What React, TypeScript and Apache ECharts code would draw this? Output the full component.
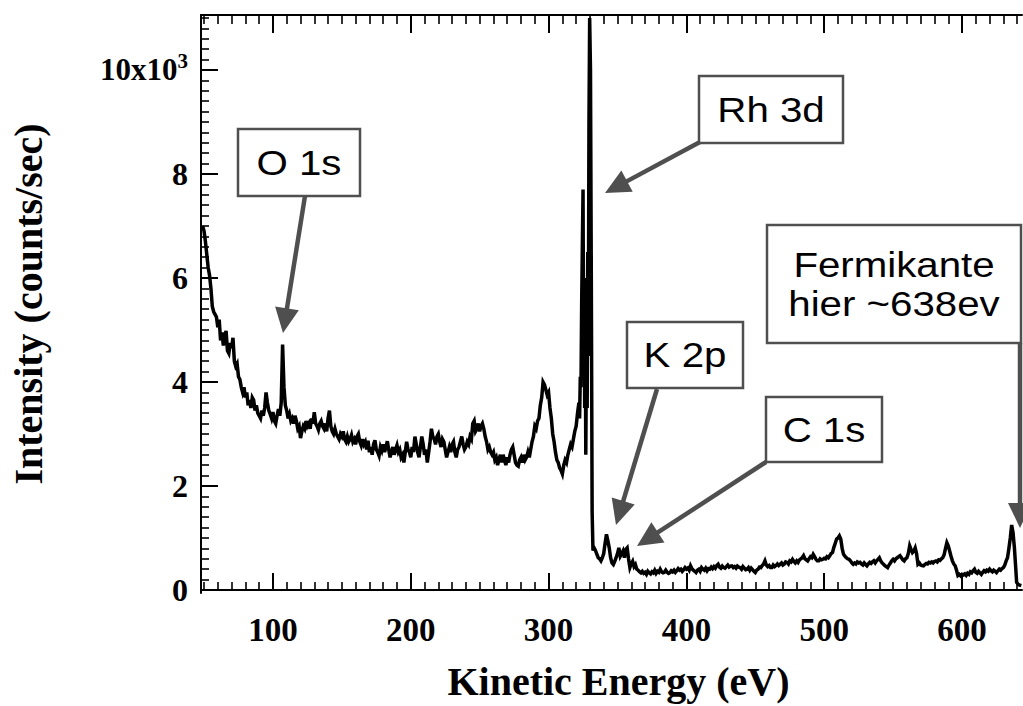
import React, { useEffect, useRef } from "react";
import * as echarts from "echarts";

// Spectrum readings [kinetic energy (eV), intensity (counts/sec)], by region
const backgroundRise: number[][] = [
  [49, 7000], [50, 6900], [51, 6700], [52, 6450], [53, 6200], [54, 6050], [55, 5800], [56, 5450], [57, 5350], [58, 5300],
  [59, 5250], [60, 5050], [61, 5200], [62, 4800], [63, 4950], [64, 4700], [65, 4900], [66, 4980], [67, 4600], [68, 4550],
  [69, 4750], [70, 4650], [71, 4850], [72, 4400], [73, 4300], [74, 4350], [75, 4100], [76, 4050], [77, 3900], [78, 3800],
  [79, 3900], [80, 3700], [81, 3800], [82, 3550], [83, 3650], [84, 3500], [85, 3700], [86, 3650], [87, 3450], [88, 3550],
  [89, 3400], [90, 3350], [91, 3300], [92, 3450], [93, 3350], [94, 3500], [95, 3800], [96, 3600], [97, 3450], [98, 3380],
  [99, 3300], [100, 3420], [101, 3250], [102, 3200], [103, 3350], [104, 3480], [105, 3350], [106, 3600], [107, 4720], [108, 3900],
  [109, 3550],
];

const plateau: number[][] = [
  [110, 3450], [111, 3300], [112, 3380], [113, 3250], [114, 3300], [115, 3200], [116, 3350], [117, 3250], [118, 3100], [119, 3150],
  [120, 2920], [121, 3050], [122, 3150], [123, 3100], [124, 3250], [125, 3150], [126, 3200], [127, 3100], [128, 3300], [129, 3200],
  [130, 3420], [131, 3200], [132, 3150], [133, 3080], [134, 3200], [135, 3250], [136, 3150], [137, 3100], [138, 3200], [139, 3050],
  [140, 3300], [141, 3450], [142, 3150], [143, 3050], [144, 3000], [145, 3100], [146, 3000], [147, 2950], [148, 2900], [149, 3000],
  [150, 2950], [151, 3050], [152, 2900], [153, 2850], [154, 2950], [155, 2850], [156, 2900], [157, 2980], [158, 2850], [159, 2900],
  [160, 2800], [161, 2950], [162, 3000], [163, 2850], [164, 2780], [165, 2900], [166, 2800], [167, 2850], [168, 2700], [169, 2870],
  [170, 2650], [171, 2750], [172, 2600], [173, 2800], [174, 2880], [175, 2700], [176, 2650], [177, 2580], [178, 2750], [179, 2680],
  [180, 2800], [181, 2650], [182, 2750], [183, 2860], [184, 2700], [185, 2550], [186, 2650], [187, 2750], [188, 2600], [189, 2700],
  [190, 2780], [191, 2650], [192, 2700], [193, 2550], [194, 2600], [195, 2450], [196, 2650], [197, 2850], [198, 2700], [199, 2650],
  [200, 2550], [201, 2750], [202, 2650], [203, 2950], [204, 2800], [205, 2650], [206, 2550], [207, 2750], [208, 2950], [209, 2800],
  [210, 2600], [211, 2700], [212, 2450], [213, 2650], [214, 2850], [215, 3100], [216, 2950], [217, 2900], [218, 2800], [219, 2950],
  [220, 3000], [221, 2850], [222, 2750], [223, 2900], [224, 2850], [225, 2700], [226, 2550], [227, 2650], [228, 2750], [229, 2650],
  [230, 2800], [231, 2850], [232, 2650], [233, 2550], [234, 2700], [235, 2750], [236, 2850], [237, 2950], [238, 2800], [239, 2700],
  [240, 2750], [241, 2850], [242, 2800], [243, 2950], [244, 2900], [245, 3200], [246, 3250], [247, 3050], [248, 3100], [249, 3200],
  [250, 3050], [251, 3150], [252, 3200], [253, 3100], [254, 2950], [255, 2850], [256, 2700], [257, 2750], [258, 2650], [259, 2600],
  [260, 2650], [261, 2500], [262, 2550], [263, 2400], [264, 2500], [265, 2600], [266, 2450], [267, 2600], [268, 2500], [269, 2400],
  [270, 2550], [271, 2450], [272, 2600], [273, 2700], [274, 2750], [275, 2600], [276, 2450], [277, 2400], [278, 2380], [279, 2500],
  [280, 2550], [281, 2450], [282, 2600], [283, 2500], [284, 2550], [285, 2650], [286, 2550], [287, 2700], [288, 2850], [289, 2950],
];

const rhodiumRegion: number[][] = [
  [290, 3150], [291, 3100], [292, 3250], [293, 3300], [294, 3550], [295, 3700], [296, 4000], [297, 3950], [298, 3850], [299, 3750],
  [300, 3800], [301, 3500], [302, 3300], [303, 3000], [304, 2850], [305, 2650], [306, 2500], [307, 2450], [308, 2350], [309, 2300],
  [310, 2230], [311, 2400], [312, 2500], [313, 2450], [314, 2600], [315, 2700], [316, 2800], [317, 2750], [318, 2900], [319, 3050],
  [320, 3150], [321, 3400], [322, 3600], [322.5, 3300], [323, 4100], [323.5, 3900], [324, 5500], [325, 7700], [325.4, 4500], [325.8, 6000],
  [326.2, 3500], [326.6, 5200], [327, 2600], [327.5, 4800], [328, 3500], [328.4, 6500], [328.8, 4500], [329.3, 9000], [329.8, 11000], [330.4, 10000],
  [331, 6000], [331.6, 1500], [332.2, 760], [333, 810], [334, 760], [335, 690], [336, 620], [337, 600],
  [338, 560], [339, 620], [340, 700], [341, 900], [342, 1070], [343, 950], [344, 810], [345, 620], [346, 520], [347, 490],
  [348, 550], [349, 620], [350, 700], [351, 810], [352, 650], [353, 700], [354, 750], [355, 620], [356, 780], [357, 810],
  [358, 600], [359, 430], [360, 500], [361, 550], [362, 450], [363, 490], [364, 400], [365, 380], [366, 350],
];

const highEnergy: number[][] = [
  [367, 330], [368, 360], [369, 320], [370, 340], [371, 300], [372, 360], [373, 330], [374, 310], [375, 350], [376, 330],
  [377, 380], [378, 320], [379, 360], [380, 340], [381, 400], [382, 350], [383, 330], [384, 340], [385, 380], [386, 340],
  [387, 320], [388, 335], [389, 370], [390, 350], [391, 380], [392, 340], [393, 370], [394, 410], [395, 380], [396, 400],
  [397, 360], [398, 390], [399, 430], [400, 400], [401, 420], [402, 380], [403, 465], [404, 410], [405, 380], [406, 360],
  [407, 335], [408, 380], [409, 400], [410, 360], [411, 430], [412, 400], [413, 380], [414, 420], [415, 370], [416, 410],
  [417, 400], [418, 440], [419, 410], [420, 450], [421, 420], [422, 470], [423, 495], [424, 440], [425, 420], [426, 460],
  [427, 430], [428, 420], [429, 450], [430, 480], [431, 440], [432, 460], [433, 465], [434, 430], [435, 450], [436, 420],
  [437, 460], [438, 440], [439, 430], [440, 400], [441, 450], [442, 420], [443, 390], [444, 400], [445, 430], [446, 380],
  [447, 420], [448, 390], [449, 360], [450, 335], [451, 380], [452, 400], [453, 440], [454, 430], [455, 470], [456, 500],
  [457, 560], [458, 480], [459, 450], [460, 470], [461, 430], [462, 430], [463, 480], [464, 450], [465, 470], [466, 500],
  [467, 470], [468, 495], [469, 520], [470, 480], [471, 500], [472, 540], [473, 530], [474, 500], [475, 560], [476, 540],
  [477, 590], [478, 550], [479, 520], [480, 560], [481, 530], [482, 580], [483, 600], [484, 620], [485, 660], [486, 600],
  [487, 580], [488, 560], [489, 600], [490, 640], [491, 620], [492, 685], [493, 640], [494, 590], [495, 560], [496, 560],
  [497, 600], [498, 580], [499, 590], [500, 610], [501, 600], [502, 640], [503, 620], [504, 660], [505, 700], [506, 720],
  [507, 820], [508, 900], [509, 980], [510, 1000], [511, 1040], [512, 980], [513, 800], [514, 685], [515, 650], [516, 620],
  [517, 600], [518, 590], [519, 560], [520, 520], [521, 495], [522, 520], [523, 500], [524, 540], [525, 520], [526, 530],
  [527, 500], [528, 480], [529, 520], [530, 490], [531, 465], [532, 500], [533, 530], [534, 510], [535, 540], [536, 560],
  [537, 520], [538, 560], [539, 590], [540, 620], [541, 560], [542, 520], [543, 495], [544, 470], [545, 450], [546, 430],
  [547, 480], [548, 520], [549, 560], [550, 590], [551, 560], [552, 600], [553, 620], [554, 640], [555, 660], [556, 620],
  [557, 580], [558, 560], [559, 600], [560, 620], [561, 700], [562, 850], [563, 780], [564, 720], [565, 750], [566, 810],
  [567, 700], [568, 495], [569, 520], [570, 480], [571, 470], [572, 465], [573, 490], [574, 510], [575, 500], [576, 530],
  [577, 520], [578, 540], [579, 520], [580, 550], [581, 560], [582, 540], [583, 580], [584, 570], [585, 600], [586, 620],
  [587, 680], [588, 800], [589, 910], [590, 850], [591, 750], [592, 650], [593, 560], [594, 500], [595, 465], [596, 380],
];

const fermiEdge: number[][] = [
  [597, 280], [598, 300], [599, 270], [600, 300], [601, 290], [602, 310], [603, 280], [604, 320], [605, 300], [606, 350],
  [607, 330], [608, 370], [609, 400], [610, 340], [611, 320], [612, 360], [613, 330], [614, 300], [615, 340], [616, 370],
  [617, 350], [618, 380], [619, 360], [620, 400], [621, 370], [622, 350], [623, 380], [624, 360], [625, 335], [626, 370],
  [627, 400], [628, 380], [629, 410], [630, 430], [631, 480], [632, 560], [633, 620], [634, 800], [635, 1000], [636, 1250],
  [637, 1100], [638, 810], [639, 400], [639.6, 145], [641, 100], [643, 85],
];

const xMajorTicks = [100, 200, 300, 400, 500, 600];
const xMinorTicks = [
  50, 60, 70, 80, 90, 100, 110, 120, 130, 140, 150, 160, 170, 180, 190, 200, 210, 220, 230, 240,
  250, 260, 270, 280, 290, 300, 310, 320, 330, 340, 350, 360, 370, 380, 390, 400, 410, 420, 430, 440,
  450, 460, 470, 480, 490, 500, 510, 520, 530, 540, 550, 560, 570, 580, 590, 600, 610, 620, 630, 640
];
const yMajorTicks = [0, 2000, 4000, 6000, 8000, 10000];
const yMinorTicks = [
  0, 200, 400, 600, 800, 1000, 1200, 1400, 1600, 1800, 2000, 2200, 2400, 2600, 2800, 3000, 3200, 3400, 3600, 3800,
  4000, 4200, 4400, 4600, 4800, 5000, 5200, 5400, 5600, 5800, 6000, 6200, 6400, 6600, 6800, 7000, 7200, 7400, 7600, 7800,
  8000, 8200, 8400, 8600, 8800, 9000, 9200, 9400, 9600, 9800, 10000, 10200, 10400, 10600, 10800, 11000
];

const xTitle = "Kinetic Energy (eV)";
const yTitle = "Intensity (counts/sec)";

const X_MIN = 47.8;
const X_MAX = 643.5;
const Y_MIN = -58;
const Y_MAX = 11056;

const SERIF = '"Liberation Serif", "Times New Roman", serif';
const SANS = '"Liberation Sans", Arial, sans-serif';
const GRAY = "#4f4f4f";

function arrow(x1: number, y1: number, x2: number, y2: number) {
  const dx = x2 - x1;
  const dy = y2 - y1;
  const L = Math.hypot(dx, dy);
  const ux = dx / L;
  const uy = dy / L;
  const hl = 25;
  const hw = 12;
  const bx = x2 - ux * hl;
  const by = y2 - uy * hl;
  return [
    {
      type: "line",
      shape: { x1, y1, x2: bx + ux * 2, y2: by + uy * 2 },
      style: { stroke: GRAY, lineWidth: 4.5 },
    },
    {
      type: "polygon",
      shape: {
        points: [
          [x2, y2],
          [bx - uy * hw, by + ux * hw],
          [bx + uy * hw, by - ux * hw],
        ],
      },
      style: { fill: GRAY },
    },
  ];
}

function box(x: number, y: number, w: number, h: number, lines: string[], lineGap: number) {
  const els: any[] = [
    {
      type: "rect",
      shape: { x, y, width: w, height: h },
      style: { fill: "#fff", stroke: GRAY, lineWidth: 2.5 },
    },
  ];
  const cx = x + w / 2;
  const cy = y + h / 2;
  lines.forEach((t, i) => {
    const ly = cy + (i - (lines.length - 1) / 2) * lineGap;
    els.push({
      type: "text",
      x: cx,
      y: ly,
      scaleX: 1.15,
      style: {
        text: t,
        fill: "#000",
        fontSize: 35,
        fontFamily: SANS,
        align: "center",
        verticalAlign: "middle",
        textAlign: "center",
        textVerticalAlign: "middle",
      },
    });
  });
  return els;
}

export default function App() {
  const ref = useRef<HTMLDivElement>(null);

  useEffect(() => {
    if (!ref.current) return;
    const chart = echarts.init(ref.current, undefined, { renderer: "svg" });
    const data = [...backgroundRise, ...plateau, ...rhodiumRegion, ...highEnergy, ...fermiEdge];

    const axisLine = { show: true, lineStyle: { color: "#000", width: 2 } };

    const option: any = {
      animation: false,
      backgroundColor: "#fff",
      grid: { left: 200, right: 1, top: 15, bottom: 112, containLabel: false },
      xAxis: [
        {
          type: "value",
          position: "bottom",
          min: X_MIN,
          max: X_MAX,
          axisLine,
          splitLine: { show: false },
          axisTick: {
            show: true,
            inside: true,
            length: 17,
            customValues: xMajorTicks,
            lineStyle: { color: "#000", width: 2 },
          },
          axisLabel: {
            show: true,
            customValues: xMajorTicks,
            margin: 20,
            color: "#000",
            fontSize: 33,
            fontWeight: "bold",
            fontFamily: SERIF,
          },
          name: xTitle,
          nameLocation: "middle",
          nameGap: 68,
          nameTextStyle: {
            color: "#000",
            fontSize: 40,
            fontWeight: "bold",
            fontFamily: SERIF,
            padding: [0, 0, 0, 14],
          },
        },
        {
          type: "value",
          position: "bottom",
          min: X_MIN,
          max: X_MAX,
          axisLine: { show: false },
          splitLine: { show: false },
          axisLabel: { show: false },
          axisTick: {
            show: true,
            inside: true,
            length: 8,
            customValues: xMinorTicks,
            lineStyle: { color: "#000", width: 1.6 },
          },
        },
        {
          type: "value",
          position: "top",
          min: X_MIN,
          max: X_MAX,
          axisLine,
          splitLine: { show: false },
          axisLabel: { show: false },
          axisTick: {
            show: true,
            inside: true,
            length: 18,
            customValues: xMajorTicks,
            lineStyle: { color: "#000", width: 2 },
          },
        },
        {
          type: "value",
          position: "top",
          min: X_MIN,
          max: X_MAX,
          axisLine: { show: false },
          splitLine: { show: false },
          axisLabel: { show: false },
          axisTick: {
            show: true,
            inside: true,
            length: 9,
            customValues: xMinorTicks,
            lineStyle: { color: "#000", width: 1.6 },
          },
        },
      ],
      yAxis: [
        {
          type: "value",
          position: "left",
          min: Y_MIN,
          max: Y_MAX,
          axisLine,
          splitLine: { show: false },
          axisTick: {
            show: true,
            inside: true,
            length: 17,
            customValues: yMajorTicks,
            lineStyle: { color: "#000", width: 2 },
          },
          axisLabel: {
            show: true,
            customValues: yMajorTicks,
            margin: 13,
            color: "#000",
            fontSize: 32,
            fontWeight: "bold",
            fontFamily: SERIF,
            formatter: (v: number) =>
              v === 10000 ? "{b|10x10}{s|3}" : "{n|" + String(Math.round(v / 1000)) + "}",
            rich: {
              n: { fontSize: 32, fontWeight: "bold", fontFamily: SERIF, color: "#000" },
              b: { fontSize: 31, fontWeight: "bold", fontFamily: SERIF, color: "#000" },
              s: {
                fontSize: 21,
                fontWeight: "bold",
                fontFamily: SERIF,
                color: "#000",
                padding: [0, 0, 18, 0],
              },
            },
          },
          name: yTitle,
          nameLocation: "middle",
          nameRotate: 90,
          nameGap: 153,
          nameTextStyle: {
            color: "#000",
            fontSize: 40,
            fontWeight: "bold",
            fontFamily: SERIF,
          },
        },
        {
          type: "value",
          position: "left",
          min: Y_MIN,
          max: Y_MAX,
          axisLine: { show: false },
          splitLine: { show: false },
          axisLabel: { show: false },
          axisTick: {
            show: true,
            inside: true,
            length: 8,
            customValues: yMinorTicks,
            lineStyle: { color: "#000", width: 1.6 },
          },
        },
      ],
      series: [
        {
          type: "line",
          xAxisIndex: 0,
          yAxisIndex: 0,
          data,
          showSymbol: false,
          symbol: "none",
          lineStyle: { color: "#000", width: 3.5, join: "miter" },
          z: 3,
        },
      ],
      graphic: {
        elements: [
          ...arrow(305, 196, 283, 333),
          ...arrow(700, 142, 605, 193),
          ...arrow(657, 389, 616, 525),
          ...arrow(766, 462, 637, 546),
          ...arrow(1020, 343, 1020, 528),
          ...box(238, 129, 122, 67, ["O 1s"], 0),
          ...box(699, 76, 144, 67, ["Rh 3d"], 0),
          ...box(627, 322, 116, 66, ["K 2p"], 0),
          ...box(766, 397, 116, 65, ["C 1s"], 0),
          ...box(767, 225, 254, 118, ["Fermikante", "hier ~638ev"], 39),
        ],
      },
    };

    chart.setOption(option);
    return () => chart.dispose();
  }, []);

  return (
    <div
      ref={ref}
      style={{ position: "fixed", left: 0, top: 0, width: 1023, height: 706, background: "#fff" }}
    />
  );
}
